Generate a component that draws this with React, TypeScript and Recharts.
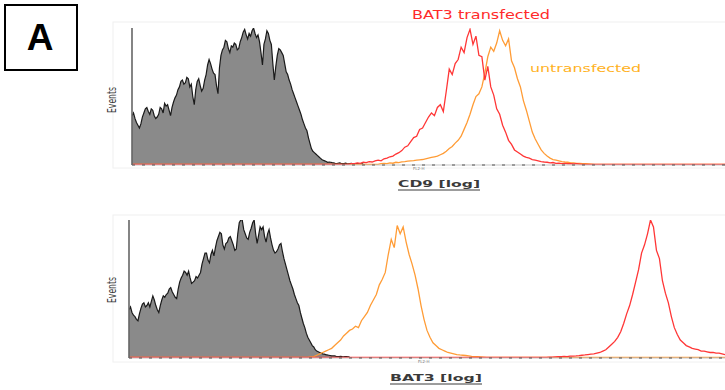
import React from 'react';
import { ComposedChart, Area, Line, XAxis, YAxis, ReferenceLine } from 'recharts';

// Channel axis (log-scaled fluorescence channels), 0..200 across each panel
const CHANNEL_MAX = 200;
const ROW_STEP = 0.5;
const BASELINE = 0.5;

// ---- Panel 1: CD9 ----
const cd9ControlStart = 0;
const cd9ControlStep = 0.5;
const cd9Control = [
  36, 38, 34, 31, 29, 27, 30, 35, 38, 41, 42, 39, 37, 41, 40, 36, 34, 35, 37, 42,
  41, 38, 45, 43, 44, 40, 36, 42, 46, 49, 51, 55, 57, 61, 62, 59, 60, 64, 63, 57,
  59, 50, 44, 55, 61, 63, 58, 54, 56, 62, 66, 73, 77, 74, 70, 67, 66, 58, 52, 71,
  80, 84, 86, 91, 90, 85, 82, 87, 86, 89, 88, 84, 85, 90, 93, 97, 99, 95, 92, 96,
  94, 98, 100, 96, 93, 95, 90, 82, 73, 88, 92, 98, 96, 91, 88, 74, 62, 72, 80, 85,
  84, 82, 80, 74, 68, 66, 62, 59, 55, 52, 49, 46, 43, 40, 37, 33, 30, 27, 25, 20,
  16, 12, 10, 9, 8, 7, 6, 5, 4, 3.5, 3, 2.5, 2, 2.2, 2, 1.7, 1.5, 1.2, 1, 1.3,
  1.5, 1.2, 1, 1.1, 1.3, 1, 0.9, 1.1, 1.2, 0.9, 0.8, 1, 1, 0.8, 0.7, 0.9, 0.8,
];
const cd9TransfectedStart = 74;
const cd9Transfected = [
  1, 1, 1.5, 1.2, 2, 1.8, 2.5, 2.2, 3, 3.5, 3, 4.5, 5, 6, 6.5, 8, 9, 10.5, 13, 14,
  17, 20, 21, 26, 27, 31, 35, 38, 36, 42, 44, 39, 54, 70, 66, 74, 77, 86, 82, 93,
  99, 88, 94, 80, 79, 62, 72, 57, 51, 41, 37, 29, 24, 18, 15, 11, 9.5, 8, 6.5, 5.5,
  5, 4, 3.5, 3, 2.5, 2.2, 2, 1.5, 1.8, 1.2, 1.4, 1, 1.2, 0.9, 1, 0.8, 0.9, 0.7,
];
const cd9UntransfectedStart = 84;
const cd9Untransfected = [
  1, 1.2, 1, 1.5, 1.3, 2, 1.8, 2.3, 2.5, 2.8, 3, 3.2, 3.5, 3.8, 4, 4.5, 5, 5.5, 6, 6.5,
  7.5, 8.5, 10, 12, 13.5, 16, 18, 21, 26, 31, 37, 44, 50, 52, 57, 67, 79, 86, 83, 89,
  98, 91, 87, 92, 76, 71, 63, 57, 47, 40, 32, 24, 19, 15, 11, 8.5, 6.5, 5, 4, 3.5,
  3, 2.5, 2.2, 2, 1.6, 1.5, 1.2, 1.1, 1, 0.9, 0.8, 0.7,
];

// ---- Panel 2: BAT3 ----
const bat3ControlStart = 0;
const bat3ControlStep = 0.5;
const bat3Control = [
  35, 37, 33, 31, 30, 28, 27, 32, 36, 39, 40, 37, 38, 40, 37, 41, 45, 42, 38, 35,
  33, 38, 42, 45, 44, 46, 47, 50, 51, 48, 46, 44, 43, 50, 55, 58, 60, 63, 62, 60,
  63, 58, 54, 55, 56, 59, 58, 60, 62, 68, 72, 76, 76, 71, 69, 75, 78, 74, 80, 85,
  88, 91, 90, 82, 79, 83, 84, 87, 88, 85, 82, 78, 79, 90, 98, 100, 100, 93, 90, 87,
  86, 91, 94, 98, 100, 90, 83, 89, 95, 93, 95, 88, 84, 90, 93, 87, 82, 78, 76, 77,
  79, 82, 83, 77, 72, 68, 64, 60, 56, 53, 50, 46, 43, 40, 38, 33, 29, 25, 22, 18,
  15, 13, 11, 9, 8, 6, 5, 4.5, 4, 3.5, 3, 2.8, 2.5, 2.2, 2, 1.8, 1.5, 1.5, 1.5, 1.2,
  1, 1.1, 1.2, 1, 0.9, 1, 1, 0.9, 0.8,
];
const bat3UntransfectedStart = 60;
const bat3Untransfected = [
  0.5, 0.8, 1, 2, 3, 4, 5, 6, 7, 9, 11, 13, 16, 18, 20, 21, 23, 22, 27, 30,
  33, 38, 42, 46, 53, 57, 62, 75, 86, 80, 96, 90, 95, 84, 75, 68, 60, 50, 38, 28,
  20, 15, 11, 9, 7, 6, 5, 4, 3.5, 3, 2.5, 2.2, 2, 1.8, 1.5, 1.2, 1, 0.9, 0.8, 0.7,
];
const bat3TransfectedStart = 140;
const bat3Transfected = [
  0.5, 0.7, 0.6, 0.8, 0.9, 1, 1.1, 1, 1.3, 1.4, 1.5, 1.7, 2, 2.2, 2.5, 2.8, 3, 3.5, 4, 5,
  6, 8, 10, 12, 15, 19, 25, 32, 38, 46, 55, 64, 76, 82, 90, 100, 95, 78, 72, 56,
  47, 40, 30, 22, 17, 13, 11, 9, 8, 7, 6.5, 6, 5, 5, 4.5, 4, 4, 3.5, 3.5, 3, 2.5,
];

type Row = { c: number; control: number | null; transfected: number | null; untransfected: number | null };

function pick(arr: number[], start: number, step: number, c: number): number | null | undefined {
  const pos = (c - start) / step;
  if (Math.abs(pos - Math.round(pos)) > 1e-6) return null; // no sample at this row
  const i = Math.round(pos);
  return i >= 0 && i < arr.length ? arr[i] : undefined; // undefined = outside series range
}

function buildRows(
  control: number[], controlStart: number, controlStep: number,
  red: number[], redStart: number,
  orange: number[], orangeStart: number,
): Row[] {
  const rows: Row[] = [];
  const n = Math.round(CHANNEL_MAX / ROW_STEP);
  for (let k = 0; k <= n; k++) {
    const c = k * ROW_STEP;
    const g = pick(control, controlStart, controlStep, c);
    const r = pick(red, redStart, 1, c);
    const o = pick(orange, orangeStart, 1, c);
    rows.push({
      c,
      control: g === undefined ? null : g,
      transfected: r === undefined ? BASELINE : r,
      untransfected: o === undefined ? BASELINE : o,
    });
  }
  return rows;
}

const cd9Rows = buildRows(cd9Control, cd9ControlStart, cd9ControlStep, cd9Transfected, cd9TransfectedStart, cd9Untransfected, cd9UntransfectedStart);
const bat3Rows = buildRows(bat3Control, bat3ControlStart, bat3ControlStep, bat3Transfected, bat3TransfectedStart, bat3Untransfected, bat3UntransfectedStart);

const RED = '#ff3636';
const ORANGE = '#ff9c36';

function Histogram({ rows, top, height, left, plotTop, plotBottom }: {
  rows: Row[]; top: number; height: number; left: number; plotTop: number; plotBottom: number;
}) {
  return (
    <div style={{ position: 'absolute', left: 0, top, width: 725, height }}>
      <ComposedChart
        width={725}
        height={height}
        data={rows}
        margin={{ top: plotTop - top, left, right: 0, bottom: top + height - plotBottom }}
      >
        <XAxis dataKey="c" type="number" domain={[0, CHANNEL_MAX]} hide allowDataOverflow />
        <YAxis type="number" domain={[0, 100]} hide allowDataOverflow />
        <Area
          type="linear"
          dataKey="control"
          stroke="#1a1a1a"
          strokeWidth={1.2}
          fill="#8a8a8a"
          fillOpacity={1}
          baseValue={0}
          connectNulls
          dot={false}
          activeDot={false}
          isAnimationActive={false}
        />
        <Line type="linear" dataKey="untransfected" stroke={ORANGE} strokeWidth={1.3} connectNulls dot={false} activeDot={false} isAnimationActive={false} />
        <Line type="linear" dataKey="transfected" stroke={RED} strokeWidth={1.3} connectNulls dot={false} activeDot={false} isAnimationActive={false} />
        <ReferenceLine y={0} stroke="#c4c4c4" strokeWidth={1.2} />
        <ReferenceLine y={0} stroke="#555" strokeWidth={1} strokeDasharray="3 7" />
        <ReferenceLine x={0} stroke="#666" strokeWidth={1.6} />
      </ComposedChart>
    </div>
  );
}

const labelFont = '"Liberation Sans Narrow", "DejaVu Sans Condensed", "DejaVu Sans", sans-serif';
const textFont = '"DejaVu Sans", Verdana, sans-serif';

export default function App() {
  return (
    <div style={{ position: 'absolute', left: 0, top: 0, width: 725, height: 390, background: '#fff', overflow: 'hidden' }}>
      <svg width={725} height={390} style={{ position: 'absolute', left: 0, top: 0 }}>
        <rect x={113} y={22} width={620} height={146} fill="none" stroke="#f0f0f0" />
        <rect x={113} y={215} width={620} height={147} fill="none" stroke="#f0f0f0" />
      </svg>
      <Histogram rows={cd9Rows} top={0} height={200} left={132} plotTop={28} plotBottom={165} />
      <Histogram rows={bat3Rows} top={195} height={195} left={129} plotTop={220} plotBottom={358} />
      <svg width={725} height={390} style={{ position: 'absolute', left: 0, top: 0, pointerEvents: 'none' }}>
        <rect x={5} y={5} width={72} height={65} fill="#fff" stroke="#000" strokeWidth={2} />
        <text x={40} y={50} textAnchor="middle" fontFamily='"Liberation Sans", Arial, sans-serif' fontWeight="bold" fontSize={37} fill="#000">A</text>

        <text transform="translate(116,100) rotate(-90)" textAnchor="middle" fontFamily={labelFont} fontSize={12} fill="#3a3a3a" textLength={26} lengthAdjust="spacingAndGlyphs">Events</text>
        <text transform="translate(116,290) rotate(-90)" textAnchor="middle" fontFamily={labelFont} fontSize={12} fill="#3a3a3a" textLength={26} lengthAdjust="spacingAndGlyphs">Events</text>

        <text x={412} y={18.5} fontFamily={textFont} fontSize={11.5} fill="#ff2b2b" textLength={138} lengthAdjust="spacingAndGlyphs">BAT3 transfected</text>
        <text x={530} y={71.5} fontFamily={textFont} fontSize={11} fill="#ffb21e" textLength={111} lengthAdjust="spacingAndGlyphs">untransfected</text>

        <text x={398} y={187} fontFamily={textFont} fontSize={9.5} fontWeight="bold" fill="#3a3a3a" textLength={82} lengthAdjust="spacingAndGlyphs">CD9  [log]</text>
        <line x1={398} x2={480} y1={190} y2={190} stroke="#3a3a3a" strokeWidth={1} />
        <text x={390} y={381} fontFamily={textFont} fontSize={9.5} fontWeight="bold" fill="#3a3a3a" textLength={92} lengthAdjust="spacingAndGlyphs">BAT3  [log]</text>
        <line x1={390} x2={482} y1={384} y2={384} stroke="#3a3a3a" strokeWidth={1} />

        <text x={413} y={170} fontFamily={textFont} fontSize={4} fill="#777">FL2-H</text>
        <text x={418} y={363} fontFamily={textFont} fontSize={4} fill="#777">FL2-H</text>
      </svg>
    </div>
  );
}
